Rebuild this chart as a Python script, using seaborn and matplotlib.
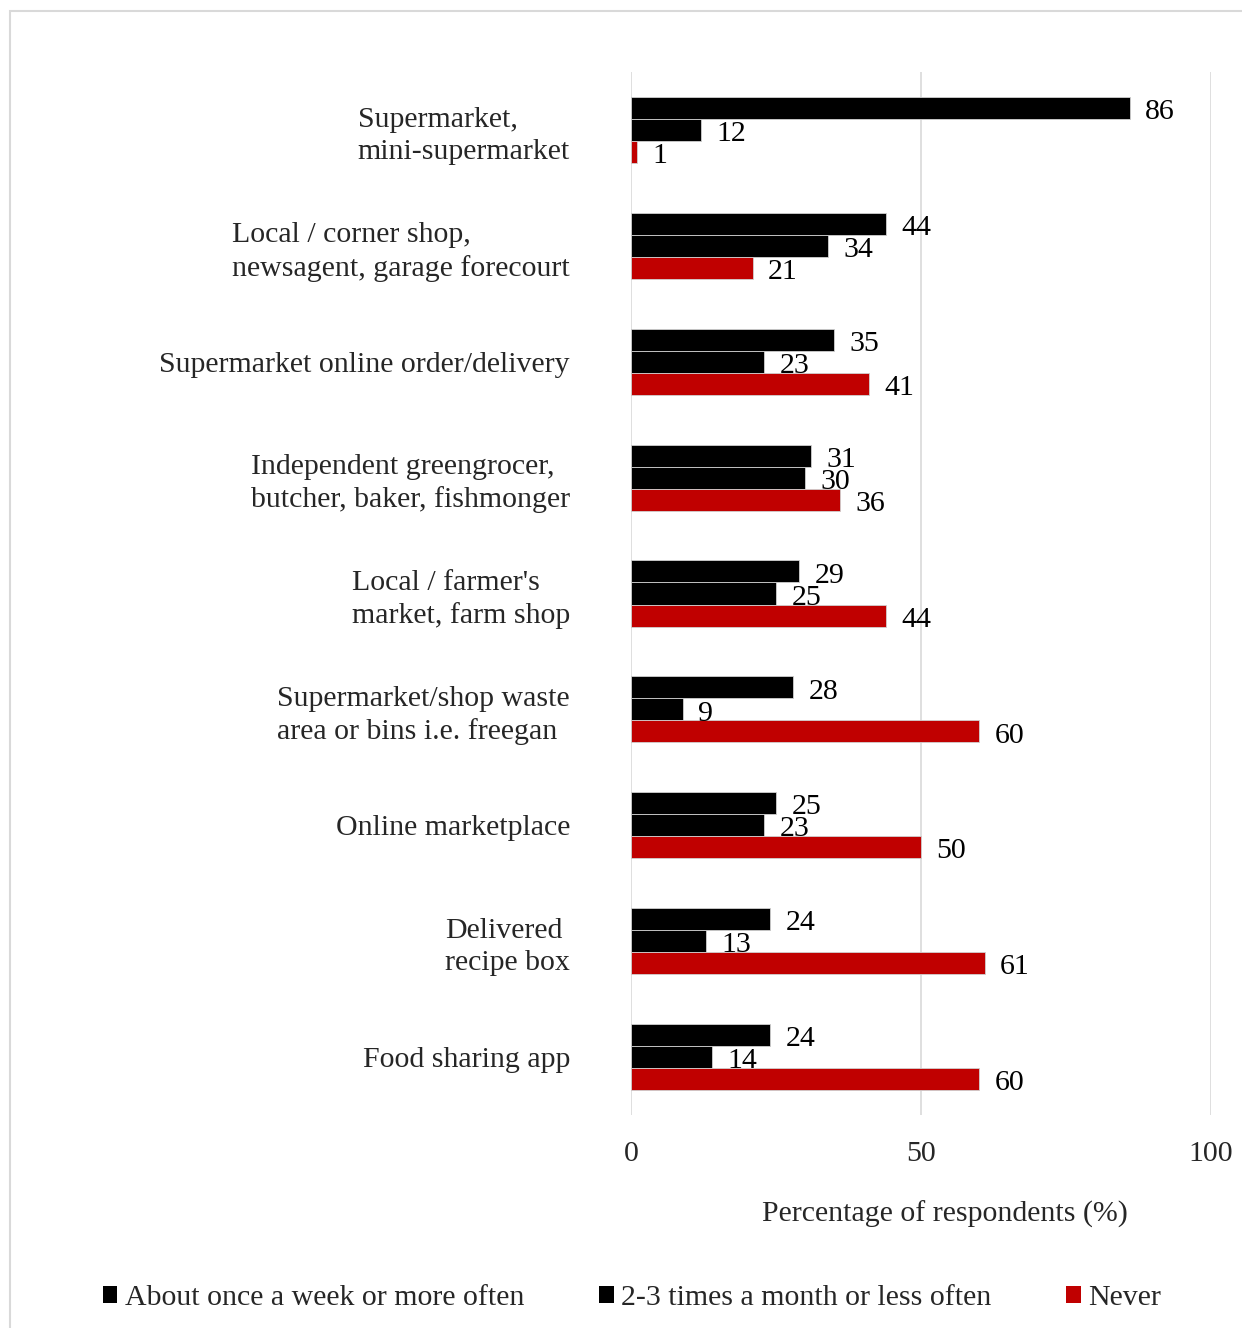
import matplotlib
matplotlib.use("Agg")
import matplotlib.pyplot as plt
import matplotlib.patches as mpatches
import seaborn as sns
import pandas as pd

outlets = [
    "Supermarket,\nmini-supermarket",
    "Local / corner shop,\nnewsagent, garage forecourt",
    "Supermarket online order/delivery",
    "Independent greengrocer,\nbutcher, baker, fishmonger",
    "Local / farmer's\nmarket, farm shop",
    "Supermarket/shop waste\narea or bins i.e. freegan",
    "Online marketplace",
    "Delivered\nrecipe box",
    "Food sharing app",
]
series_names = ["About once a week or more often", "2-3 times a month or less often", "Never"]
weekly = [86, 44, 35, 31, 29, 28, 25, 24, 24]
monthly = [12, 34, 23, 30, 25, 9, 23, 13, 14]
never = [1, 21, 41, 36, 44, 60, 50, 61, 60]
x_ticks = [0, 50, 100]
x_label = "Percentage of respondents (%)"

colors = {series_names[0]: "#000000", series_names[1]: "#000000", series_names[2]: "#C00000"}

rows = []
for name, vals in zip(series_names, [weekly, monthly, never]):
    for o, v in zip(outlets, vals):
        rows.append({"Outlet": o, "Percent": v, "Frequency": name})
df = pd.DataFrame(rows)

FS = 21.5
sns.set_theme(style="white")
plt.rcParams["font.family"] = ["Liberation Serif", "DejaVu Serif"]
plt.rcParams["font.size"] = FS

fig = plt.figure(figsize=(12.42, 13.28), dpi=100)
ax = fig.add_axes([631 / 1242, 1 - 1115 / 1328, 580 / 1242, (1115 - 72) / 1328])

sns.barplot(data=df, y="Outlet", x="Percent", hue="Frequency", orient="h",
            order=outlets, hue_order=series_names, palette=colors, width=0.57,
            saturation=1, edgecolor="#d0d0d0", linewidth=0.6, ax=ax, legend=False)

for cont in ax.containers:
    anns = ax.bar_label(cont, padding=11, fontsize=FS, color="black")
    for a in anns:
        a.xyann = (11, -3)

ax.set_xlim(0, 100)
ax.set_xticks(x_ticks)
ax.set_xticklabels([str(t) for t in x_ticks])
ax.grid(axis="x", color="#d9d9d9", linewidth=1.2)
ax.grid(axis="y", visible=False)
ax.set_axisbelow(True)
for s in ax.spines.values():
    s.set_visible(False)
ax.tick_params(axis="x", length=0, pad=19, labelsize=FS)
ax.tick_params(axis="y", length=0, pad=44, labelsize=FS)
for lab in ax.get_yticklabels():
    lab.set_multialignment("left")
    lab.set_linespacing(1.3)
ax.set_ylabel("")
ax.set_xlabel(x_label, fontsize=FS)
ax.xaxis.set_label_coords((945 - 631) / 580, -(1201 - 1115) / 1043)

handles = [mpatches.Patch(facecolor=colors[n], edgecolor="none") for n in series_names]
fig.legend(handles, series_names, loc="center", bbox_to_anchor=(632 / 1242, 1 - 1298 / 1328),
           ncol=3, frameon=False, fontsize=FS, handlelength=0.5, handleheight=0.5,
           handletextpad=0.25, columnspacing=2.5)

frame = mpatches.Rectangle((10 / 1242, -0.05), 1.2, 1 - 11 / 1328 + 0.05,
                           transform=fig.transFigure, fill=False, edgecolor="#d9d9d9",
                           linewidth=1.5)
fig.patches.append(frame)

fig.savefig("out.png", dpi=100)
